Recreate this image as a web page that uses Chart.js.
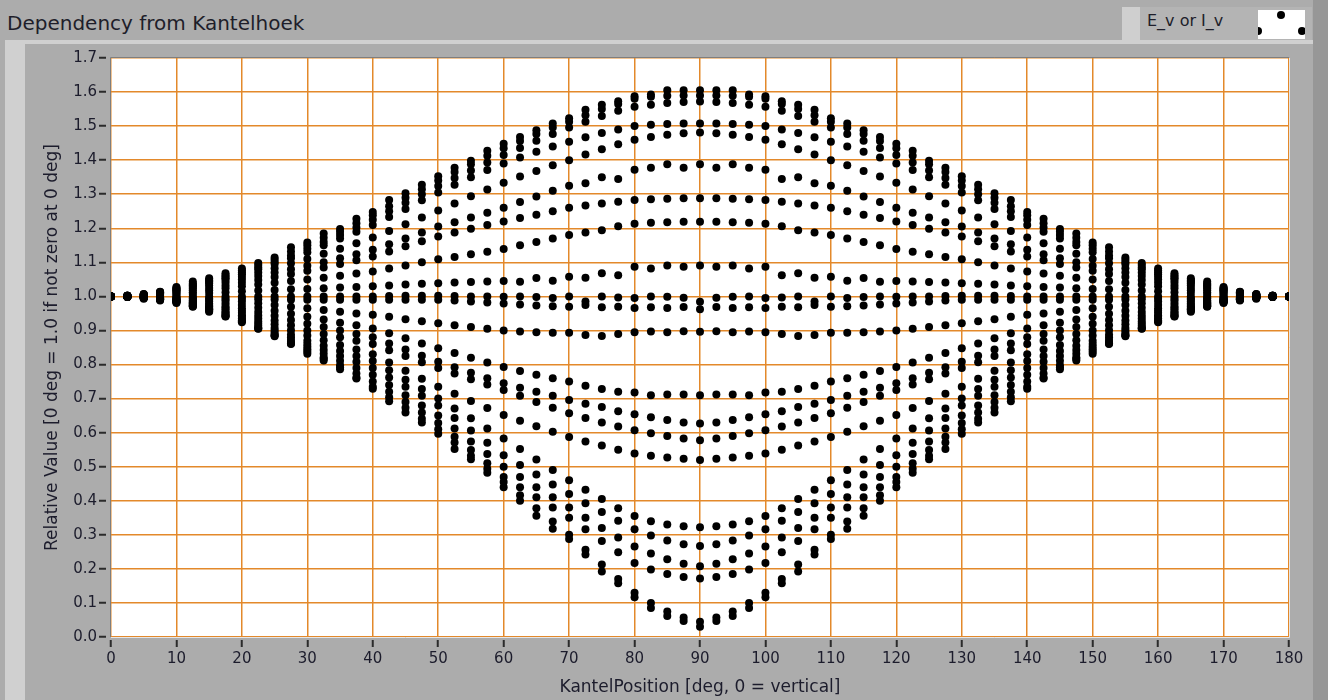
<!DOCTYPE html>
<html>
<head>
<meta charset="utf-8">
<script src="https://cdn.jsdelivr.net/npm/chart.js@4"></script>
<style>
html,body{margin:0;padding:0;}
body{width:1328px;height:700px;background:#acacac;position:relative;overflow:hidden;font-family:"DejaVu Sans",sans-serif;}
#title{position:absolute;left:7px;top:12px;font-size:20px;line-height:23px;color:#1e1e2a;white-space:nowrap;}
#band{position:absolute;left:5px;top:40px;width:1308px;height:4px;background:#d0d0d0;}
#lstrip{position:absolute;left:5px;top:40px;width:20px;height:660px;background:#d0d0d0;}
#rstrip{position:absolute;left:1313px;top:0;width:15px;height:700px;background:#979797;}
#legL{position:absolute;left:1122px;top:7px;width:18px;height:33px;background:#cfcfcf;}
#legM{position:absolute;left:1140px;top:7px;width:172px;height:33px;background:#b4b4b4;}
#legText{position:absolute;left:1147px;top:11px;font-size:16px;line-height:19px;color:#1e1e2a;white-space:nowrap;}
#legBox{position:absolute;left:1258px;top:10px;width:47px;height:29px;background:#fff;overflow:hidden;}
.ld{position:absolute;width:8px;height:8px;border-radius:50%;background:#000;}
#c{position:absolute;left:0;top:0;}
</style>
</head>
<body>
<div id="band"></div>
<div id="lstrip"></div>
<div id="rstrip"></div>
<div id="title">Dependency from Kantelhoek</div>
<div id="legL"></div>
<div id="legM"></div>
<div id="legText">E_v or I_v</div>
<div id="legBox"><div class="ld" style="left:19px;top:1px"></div><div class="ld" style="left:-4px;top:17px"></div><div class="ld" style="left:40px;top:17px"></div></div>
<canvas id="c" width="1328" height="700"></canvas>
<script>
// Angles (deg) of the measurement columns
const angles = [0,2.5,5,7.5,10,12.5,15,17.5,20,22.5,25,27.5,30,32.5,35,37.5,40,42.5,45,47.5,50,52.5,55,57.5,60,62.5,65,67.5,70,72.5,75,77.5,80,82.5,85,87.5,90,92.5,95,97.5,100,102.5,105,107.5,110,112.5,115,117.5,120,122.5,125,127.5,130,132.5,135,137.5,140,142.5,145,147.5,150,152.5,155,157.5,160,162.5,165,167.5,170,172.5,175,177.5,180];

const curve01 = [1.000,1.002,1.007,1.014,1.028,1.044,1.053,1.068,1.082,1.098,1.114,1.144,1.158,1.185,1.198,1.228,1.248,1.283,1.303,1.328,1.353,1.378,1.398,1.428,1.448,1.468,1.488,1.508,1.523,1.548,1.563,1.573,1.588,1.593,1.605,1.605,1.605,1.605,1.605,1.593,1.588,1.573,1.563,1.548,1.523,1.508,1.488,1.468,1.448,1.428,1.398,1.378,1.353,1.328,1.303,1.283,1.248,1.228,1.198,1.185,1.158,1.144,1.114,1.098,1.082,1.068,1.053,1.044,1.028,1.014,1.007,1.002,1.000];
const curve02 = [1.0,1.002,1.006,1.013,1.025,1.038,1.048,1.062,1.076,1.092,1.108,1.132,1.15,1.172,1.19,1.215,1.238,1.265,1.29,1.315,1.34,1.365,1.388,1.413,1.435,1.456,1.477,1.496,1.513,1.532,1.55,1.565,1.58,1.586,1.589,1.59,1.59,1.59,1.589,1.586,1.58,1.565,1.55,1.532,1.513,1.496,1.477,1.456,1.435,1.413,1.388,1.365,1.34,1.315,1.29,1.265,1.238,1.215,1.19,1.172,1.15,1.132,1.108,1.092,1.076,1.062,1.048,1.038,1.025,1.013,1.006,1.002,1.0];
const curve03 = [1.0,1.002,1.005,1.012,1.022,1.034,1.045,1.057,1.07,1.085,1.1,1.12,1.14,1.16,1.18,1.202,1.225,1.25,1.275,1.3,1.324,1.348,1.37,1.393,1.415,1.436,1.457,1.477,1.496,1.513,1.53,1.545,1.557,1.563,1.568,1.571,1.572,1.571,1.568,1.563,1.557,1.545,1.53,1.513,1.496,1.477,1.457,1.436,1.415,1.393,1.37,1.348,1.324,1.3,1.275,1.25,1.225,1.202,1.18,1.16,1.14,1.12,1.1,1.085,1.07,1.057,1.045,1.034,1.022,1.012,1.005,1.002,1.0];
const curve04 = [1.0,1.002,1.005,1.011,1.02,1.031,1.042,1.053,1.065,1.08,1.095,1.112,1.13,1.15,1.17,1.19,1.21,1.233,1.257,1.282,1.305,1.328,1.35,1.371,1.39,1.408,1.425,1.44,1.454,1.467,1.48,1.49,1.5,1.504,1.506,1.508,1.508,1.508,1.506,1.504,1.5,1.49,1.48,1.467,1.454,1.44,1.425,1.408,1.39,1.371,1.35,1.328,1.305,1.282,1.257,1.233,1.21,1.19,1.17,1.15,1.13,1.112,1.095,1.08,1.065,1.053,1.042,1.031,1.02,1.011,1.005,1.002,1.0];
const curve05 = [1.0,1.002,1.005,1.01,1.018,1.028,1.038,1.048,1.058,1.07,1.083,1.097,1.11,1.125,1.14,1.156,1.173,1.192,1.212,1.232,1.252,1.273,1.294,1.314,1.334,1.352,1.368,1.385,1.4,1.417,1.432,1.447,1.46,1.468,1.475,1.479,1.481,1.479,1.475,1.468,1.46,1.447,1.432,1.417,1.4,1.385,1.368,1.352,1.334,1.314,1.294,1.273,1.252,1.232,1.212,1.192,1.173,1.156,1.14,1.125,1.11,1.097,1.083,1.07,1.058,1.048,1.038,1.028,1.018,1.01,1.005,1.002,1.0];
const curve06 = [1.0,1.002,1.004,1.009,1.015,1.023,1.032,1.041,1.05,1.06,1.07,1.08,1.09,1.1,1.112,1.124,1.137,1.153,1.17,1.188,1.205,1.218,1.232,1.246,1.26,1.277,1.293,1.31,1.325,1.332,1.35,1.345,1.372,1.378,1.388,1.378,1.388,1.378,1.388,1.378,1.372,1.345,1.35,1.332,1.325,1.31,1.293,1.277,1.26,1.246,1.232,1.218,1.205,1.188,1.17,1.153,1.137,1.124,1.112,1.1,1.09,1.08,1.07,1.06,1.05,1.041,1.032,1.023,1.015,1.009,1.004,1.002,1.0];
const curve07 = [1.0,1.001,1.003,1.007,1.012,1.018,1.025,1.032,1.04,1.048,1.057,1.066,1.075,1.085,1.095,1.106,1.117,1.132,1.147,1.162,1.176,1.188,1.199,1.21,1.22,1.23,1.24,1.25,1.26,1.267,1.273,1.278,1.283,1.285,1.287,1.288,1.288,1.288,1.287,1.285,1.283,1.278,1.273,1.267,1.26,1.25,1.24,1.23,1.22,1.21,1.199,1.188,1.176,1.162,1.147,1.132,1.117,1.106,1.095,1.085,1.075,1.066,1.057,1.048,1.04,1.032,1.025,1.018,1.012,1.007,1.003,1.001,1.0];
const curve08 = [1.0,1.001,1.002,1.005,1.008,1.012,1.018,1.024,1.03,1.035,1.04,1.045,1.05,1.055,1.061,1.067,1.073,1.082,1.091,1.1,1.109,1.116,1.124,1.131,1.139,1.15,1.16,1.17,1.18,1.188,1.194,1.206,1.213,1.216,1.218,1.219,1.219,1.219,1.218,1.216,1.213,1.206,1.194,1.188,1.18,1.17,1.16,1.15,1.139,1.131,1.124,1.116,1.109,1.1,1.091,1.082,1.073,1.067,1.061,1.055,1.05,1.045,1.04,1.035,1.03,1.024,1.018,1.012,1.008,1.005,1.002,1.001,1.0];
const curve09 = [1.0,1.0,1.001,1.003,1.005,1.007,1.01,1.012,1.015,1.017,1.019,1.021,1.022,1.024,1.026,1.028,1.03,1.032,1.035,1.037,1.039,1.041,1.042,1.044,1.045,1.043,1.054,1.046,1.058,1.055,1.068,1.062,1.087,1.082,1.091,1.087,1.091,1.087,1.091,1.082,1.087,1.062,1.068,1.055,1.058,1.046,1.054,1.043,1.045,1.044,1.042,1.041,1.039,1.037,1.035,1.032,1.03,1.028,1.026,1.024,1.022,1.021,1.019,1.017,1.015,1.012,1.01,1.007,1.005,1.003,1.001,1.0,1.0];
const curve10 = [1.0,1.0,1.0,1.0,1.0,1.0,1.0,1.0,1.0,1.0,1.0,1.0,1.0,1.0,1.0,1.0,1.0,1.001,1.002,1.002,1.002,1.001,1.0,1.0,0.999,1.0,0.998,0.995,1.0,0.985,1.0,0.997,0.995,1.0,0.999,0.996,0.984,0.996,0.999,1.0,0.995,0.997,1.0,0.985,1.0,0.995,0.998,1.0,0.999,1.0,1.0,1.001,1.002,1.002,1.002,1.001,1.0,1.0,1.0,1.0,1.0,1.0,1.0,1.0,1.0,1.0,1.0,1.0,1.0,1.0,1.0,1.0,1.0];
const curve11 = [1.0,0.999,0.998,0.997,0.996,0.995,0.994,0.993,0.993,0.992,0.991,0.99,0.99,0.99,0.99,0.99,0.99,0.99,0.99,0.99,0.99,0.988,0.985,0.982,0.979,0.976,0.973,0.971,0.97,0.975,0.968,0.97,0.966,0.968,0.966,0.969,0.962,0.969,0.966,0.968,0.966,0.97,0.968,0.975,0.97,0.971,0.973,0.976,0.979,0.982,0.985,0.988,0.99,0.99,0.99,0.99,0.99,0.99,0.99,0.99,0.99,0.99,0.991,0.992,0.993,0.993,0.994,0.995,0.996,0.997,0.998,0.999,1.0];
const curve12 = [1.0,0.999,0.998,0.996,0.995,0.993,0.99,0.988,0.985,0.98,0.975,0.97,0.965,0.96,0.955,0.95,0.946,0.94,0.933,0.927,0.921,0.915,0.91,0.905,0.9,0.897,0.895,0.893,0.893,0.887,0.884,0.89,0.895,0.897,0.895,0.898,0.896,0.898,0.895,0.897,0.895,0.89,0.884,0.887,0.893,0.893,0.895,0.897,0.9,0.905,0.91,0.915,0.921,0.927,0.933,0.94,0.946,0.95,0.955,0.96,0.965,0.97,0.975,0.98,0.985,0.988,0.99,0.993,0.995,0.996,0.998,0.999,1.0];
const curve13 = [1.0,0.999,0.998,0.996,0.993,0.989,0.985,0.98,0.975,0.967,0.958,0.949,0.94,0.932,0.923,0.915,0.906,0.892,0.877,0.862,0.848,0.834,0.82,0.806,0.793,0.781,0.77,0.76,0.75,0.738,0.728,0.72,0.718,0.71,0.712,0.712,0.71,0.712,0.712,0.71,0.718,0.72,0.728,0.738,0.75,0.76,0.77,0.781,0.793,0.806,0.82,0.834,0.848,0.862,0.877,0.892,0.906,0.915,0.923,0.932,0.94,0.949,0.958,0.967,0.975,0.98,0.985,0.989,0.993,0.996,0.998,0.999,1.0];
const curve14 = [1.0,0.999,0.997,0.994,0.99,0.985,0.979,0.972,0.965,0.954,0.943,0.931,0.92,0.91,0.9,0.89,0.88,0.862,0.844,0.826,0.808,0.792,0.776,0.76,0.745,0.732,0.72,0.708,0.696,0.685,0.675,0.663,0.654,0.645,0.637,0.63,0.627,0.63,0.637,0.645,0.654,0.663,0.675,0.685,0.696,0.708,0.72,0.732,0.745,0.76,0.776,0.792,0.808,0.826,0.844,0.862,0.88,0.89,0.9,0.91,0.92,0.931,0.943,0.954,0.965,0.972,0.979,0.985,0.99,0.994,0.997,0.999,1.0];
const curve15 = [1.0,0.999,0.997,0.994,0.99,0.983,0.975,0.967,0.958,0.944,0.929,0.915,0.9,0.89,0.88,0.87,0.86,0.842,0.825,0.807,0.79,0.774,0.757,0.741,0.725,0.708,0.69,0.673,0.657,0.643,0.63,0.618,0.607,0.598,0.59,0.583,0.578,0.583,0.59,0.598,0.607,0.618,0.63,0.643,0.657,0.673,0.69,0.708,0.725,0.741,0.757,0.774,0.79,0.807,0.825,0.842,0.86,0.87,0.88,0.89,0.9,0.915,0.929,0.944,0.958,0.967,0.975,0.983,0.99,0.994,0.997,0.999,1.0];
const curve16 = [1.0,0.999,0.997,0.993,0.988,0.98,0.971,0.962,0.952,0.935,0.918,0.901,0.885,0.871,0.857,0.844,0.83,0.806,0.782,0.758,0.735,0.714,0.693,0.672,0.652,0.635,0.619,0.603,0.587,0.574,0.562,0.55,0.539,0.532,0.527,0.523,0.52,0.523,0.527,0.532,0.539,0.55,0.562,0.574,0.587,0.603,0.619,0.635,0.652,0.672,0.693,0.714,0.735,0.758,0.782,0.806,0.83,0.844,0.857,0.871,0.885,0.901,0.918,0.935,0.952,0.962,0.971,0.98,0.988,0.993,0.997,0.999,1.0];
const curve17 = [1.0,0.999,0.997,0.993,0.987,0.978,0.967,0.956,0.945,0.926,0.907,0.888,0.87,0.855,0.84,0.825,0.81,0.783,0.755,0.728,0.7,0.671,0.642,0.612,0.583,0.552,0.521,0.49,0.46,0.432,0.405,0.378,0.355,0.34,0.33,0.325,0.322,0.325,0.33,0.34,0.355,0.378,0.405,0.432,0.46,0.49,0.521,0.552,0.583,0.612,0.642,0.671,0.7,0.728,0.755,0.783,0.81,0.825,0.84,0.855,0.87,0.888,0.907,0.926,0.945,0.956,0.967,0.978,0.987,0.993,0.997,0.999,1.0];
const curve18 = [1.0,0.999,0.996,0.992,0.986,0.976,0.964,0.952,0.94,0.92,0.9,0.88,0.86,0.843,0.825,0.808,0.79,0.762,0.735,0.708,0.68,0.643,0.606,0.57,0.534,0.505,0.477,0.448,0.42,0.393,0.367,0.341,0.316,0.298,0.283,0.272,0.267,0.272,0.283,0.298,0.316,0.341,0.367,0.393,0.42,0.448,0.477,0.505,0.534,0.57,0.606,0.643,0.68,0.708,0.735,0.762,0.79,0.808,0.825,0.843,0.86,0.88,0.9,0.92,0.94,0.952,0.964,0.976,0.986,0.992,0.996,0.999,1.0];
const curve19 = [1.0,0.999,0.996,0.992,0.985,0.974,0.961,0.948,0.935,0.914,0.893,0.872,0.852,0.832,0.811,0.79,0.77,0.74,0.71,0.68,0.65,0.612,0.574,0.537,0.5,0.47,0.44,0.41,0.38,0.35,0.32,0.292,0.266,0.245,0.228,0.215,0.208,0.215,0.228,0.245,0.266,0.292,0.32,0.35,0.38,0.41,0.44,0.47,0.5,0.537,0.574,0.612,0.65,0.68,0.71,0.74,0.77,0.79,0.811,0.832,0.852,0.872,0.893,0.914,0.935,0.948,0.961,0.974,0.985,0.992,0.996,0.999,1.0];
const curve20 = [1.0,0.999,0.996,0.991,0.984,0.972,0.958,0.944,0.93,0.908,0.887,0.866,0.845,0.821,0.798,0.774,0.75,0.72,0.69,0.659,0.628,0.588,0.549,0.51,0.47,0.44,0.41,0.38,0.35,0.316,0.282,0.249,0.217,0.198,0.185,0.176,0.172,0.176,0.185,0.198,0.217,0.249,0.282,0.316,0.35,0.38,0.41,0.44,0.47,0.51,0.549,0.588,0.628,0.659,0.69,0.72,0.75,0.774,0.798,0.821,0.845,0.866,0.887,0.908,0.93,0.944,0.958,0.972,0.984,0.991,0.996,0.999,1.0];
const curve21 = [1.0,0.998,0.995,0.99,0.983,0.97,0.955,0.941,0.927,0.905,0.883,0.86,0.838,0.812,0.786,0.761,0.735,0.704,0.673,0.641,0.61,0.571,0.532,0.494,0.455,0.416,0.378,0.339,0.3,0.256,0.213,0.17,0.13,0.1,0.075,0.057,0.045,0.057,0.075,0.1,0.13,0.17,0.213,0.256,0.3,0.339,0.378,0.416,0.455,0.494,0.532,0.571,0.61,0.641,0.673,0.704,0.735,0.761,0.786,0.812,0.838,0.86,0.883,0.905,0.927,0.941,0.955,0.97,0.983,0.99,0.995,0.998,1.0];
const curve22 = [1.0,0.998,0.993,0.988,0.981,0.971,0.962,0.942,0.924,0.906,0.886,0.862,0.832,0.817,0.792,0.759,0.729,0.692,0.659,0.63,0.597,0.552,0.522,0.482,0.44,0.4,0.356,0.318,0.288,0.242,0.192,0.158,0.117,0.085,0.062,0.047,0.03,0.047,0.062,0.085,0.117,0.158,0.192,0.242,0.288,0.318,0.356,0.4,0.44,0.482,0.522,0.552,0.597,0.63,0.659,0.692,0.729,0.759,0.792,0.817,0.832,0.862,0.886,0.906,0.924,0.942,0.962,0.971,0.981,0.988,0.993,0.998,1.0];

const seriesName = 'E_v or I_v';
const chartTitle = 'Dependency from Kantelhoek';
const xAxisTitle = 'KantelPosition [deg, 0 = vertical]';
const yAxisTitle = 'Relative Value [0 deg = 1.0 if not zero at 0 deg]';

const curves = [curve01,curve02,curve03,curve04,curve05,curve06,curve07,curve08,curve09,curve10,curve11,curve12,curve13,curve14,curve15,curve16,curve17,curve18,curve19,curve20,curve21,curve22];
const points = [];
curves.forEach(c => c.forEach((v, i) => { if (i < angles.length) points.push({x: angles[i], y: v}); }));

const ORANGE = '#e3892b';
const TXT = '#1c1c2c';

const plotFrame = {
  id: 'plotFrame',
  beforeDraw(chart) {
    const {ctx, chartArea: a} = chart;
    ctx.save();
    ctx.fillStyle = '#ffffff';
    ctx.fillRect(a.left, a.top, a.right - a.left, a.bottom - a.top);
    ctx.restore();
  },
  afterDraw(chart) {
    const {ctx, chartArea: a} = chart;
    ctx.save();
    ctx.lineWidth = 1;
    ctx.strokeStyle = '#7e7e7e';
    ctx.beginPath();
    ctx.moveTo(a.left - 0.5, a.bottom); ctx.lineTo(a.left - 0.5, a.top - 0.5); ctx.lineTo(a.right, a.top - 0.5);
    ctx.stroke();
    ctx.strokeStyle = '#e6e6e6';
    ctx.beginPath();
    ctx.moveTo(a.left, a.bottom + 0.5); ctx.lineTo(a.right + 0.5, a.bottom + 0.5); ctx.lineTo(a.right + 0.5, a.top);
    ctx.stroke();
    ctx.restore();
  }
};

new Chart(document.getElementById('c'), {
  type: 'scatter',
  data: {
    datasets: [{
      label: seriesName,
      data: points,
      backgroundColor: '#000000',
      borderColor: '#000000',
      borderWidth: 0,
      pointRadius: 4,
      pointHoverRadius: 4,
      showLine: false
    }]
  },
  options: {
    responsive: false,
    maintainAspectRatio: false,
    animation: false,
    devicePixelRatio: 1,
    layout: {padding: {left: 0, right: 39, top: 58, bottom: 0}},
    plugins: {legend: {display: false}, tooltip: {enabled: false}, title: {display: false}},
    scales: {
      x: {
        type: 'linear', min: 0, max: 180,
        afterFit(s) { s.height = 63; },
        ticks: {stepSize: 10, color: TXT, font: {family: 'DejaVu Sans', size: 15}, padding: 3, maxRotation: 0, autoSkip: false},
        grid: {color: ORANGE, lineWidth: 1.5, tickColor: '#2b2b2b', tickLength: 10, tickWidth: 2, tickBorderDash: [0, 3, 7, 40]},
        border: {display: false},
        title: {display: true, text: xAxisTitle, color: TXT, font: {family: 'DejaVu Sans', size: 17}, padding: {top: 0, bottom: 2}}
      },
      y: {
        type: 'linear', min: 0, max: 1.7,
        afterFit(s) { s.width = 111; },
        ticks: {stepSize: 0.1, color: TXT, font: {family: 'DejaVu Sans', size: 15}, padding: 2, autoSkip: false, callback: v => Number(v).toFixed(1)},
        grid: {color: ORANGE, lineWidth: 1.5, tickColor: '#2b2b2b', tickLength: 12, tickWidth: 2, tickBorderDash: [7, 40]},
        border: {display: false},
        title: {display: true, text: yAxisTitle, color: TXT, font: {family: 'DejaVu Sans', size: 17}, padding: {top: 42, bottom: 0}}
      }
    }
  },
  plugins: [plotFrame]
});
</script>
</body>
</html>
